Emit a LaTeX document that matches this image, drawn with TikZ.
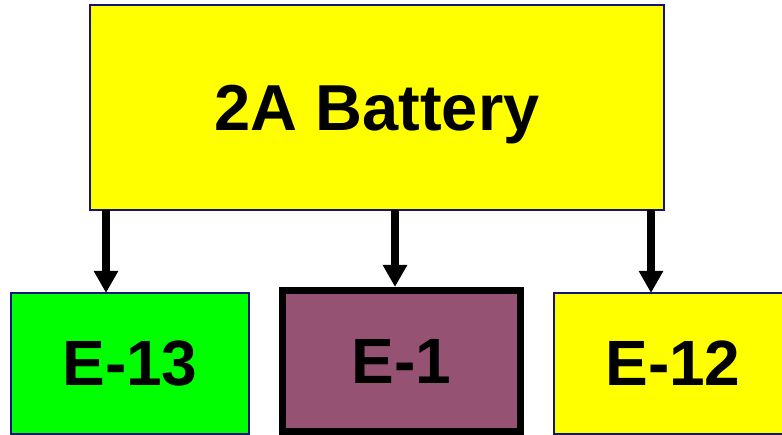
\documentclass[tikz,border=0pt]{standalone}
\usepackage{fontspec}
\setmainfont{Liberation Sans}
\usetikzlibrary{arrows.meta}

\definecolor{boxline}{RGB}{20,20,120}
\definecolor{plum}{RGB}{150,82,115}
\definecolor{lemon}{RGB}{255,255,0}
\definecolor{lime}{RGB}{0,255,0}

\begin{document}
\begin{tikzpicture}[
  x=1pt, y=-1pt,
  font=\bfseries\fontsize{64}{70}\selectfont,
  unit/.style={rectangle, draw=boxline, line width=1.5pt, inner sep=0pt, outer sep=0pt, minimum width=238pt, minimum height=141pt, align=center},
  arr/.style={-{Triangle[width=23pt, length=22pt]}, line width=8pt}
]
\clip (0,0) rectangle (782,435);
\useasboundingbox (0,0) rectangle (782,435);
% source box
\node[unit, fill=lemon, minimum width=574pt, minimum height=205pt, text depth=0pt, font=\bfseries\fontsize{65}{70}\selectfont] (bat) at (377,107.5) {2A Battery};
% loads
\node[unit, fill=lime] (e13) at (130,363.5) {E-13};
\node[unit, fill=plum, draw=black, line width=7pt] (e1) at (401.5,361) {E-1};
\node[unit, fill=lemon] (e12) at (673,363.5) {E-12};

\draw[arr] ([xshift=-271pt]bat.south) -- ([xshift=-24pt]e13.north);
\draw[arr] ([xshift=18pt]bat.south) -- ([xshift=-6.5pt, yshift=3.5pt]e1.north);
\draw[arr] ([xshift=274pt]bat.south) -- ([xshift=-22pt]e12.north);
\end{tikzpicture}
\end{document}
